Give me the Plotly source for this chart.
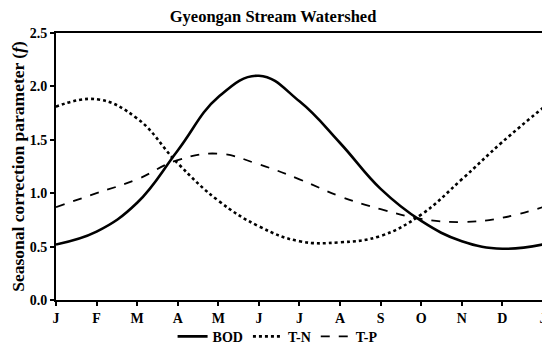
import plotly.graph_objects as go

months = list(range(13))
month_labels = ["J", "F", "M", "A", "M", "J", "J", "A", "S", "O", "N", "D", "J"]

bod = [0.52, 0.64, 0.91, 1.40, 1.90, 2.10, 1.86, 1.47, 1.04, 0.74, 0.55, 0.48, 0.52]
tn = [1.81, 1.88, 1.70, 1.28, 0.93, 0.69, 0.55, 0.54, 0.60, 0.80, 1.13, 1.48, 1.80]
tp = [0.87, 1.00, 1.13, 1.31, 1.37, 1.27, 1.13, 0.97, 0.85, 0.76, 0.73, 0.77, 0.87]

font = "Liberation Serif, Times New Roman, serif"

fig = go.Figure()
fig.add_trace(go.Scatter(x=months, y=bod, name="<b>BOD</b>", mode="lines",
                         line=dict(color="black", width=2.6, shape="spline", smoothing=1.2)))
fig.add_trace(go.Scatter(x=months, y=tn, name="<b>T-N</b>", mode="lines",
                         line=dict(color="black", width=2.6, dash="dot", shape="spline", smoothing=1.2)))
fig.add_trace(go.Scatter(x=months, y=tp, name="<b>T-P</b>", mode="lines",
                         line=dict(color="black", width=1.8, dash="dash", shape="spline", smoothing=1.2)))

# the page has an 8px body margin, so the figure is drawn 8px in from the top-left
fig.update_layout(
    width=542, height=340,
    margin=dict(l=48, r=7, t=25, b=48, autoexpand=False),
    paper_bgcolor="white", plot_bgcolor="white",
    font=dict(family=font, color="black"),
    title=dict(text="<b>Gyeongan Stream Watershed</b>", x=0.489, xanchor="center",
               yref="container", y=0.993, yanchor="top", font=dict(size=16.5)),
    showlegend=True,
    legend=dict(orientation="h", x=0.455, xanchor="center",
                yref="container", y=0.08, yanchor="top",
                font=dict(size=14), bgcolor="rgba(0,0,0,0)", itemwidth=30,
                tracegroupgap=0),
    xaxis=dict(range=[0, 12.0005], tickvals=months,
               ticktext=["<b>%s</b>" % t for t in month_labels],
               automargin=False, ticklabeloverflow="allow",
               showgrid=False, zeroline=False, showline=True, linecolor="black", linewidth=2,
               mirror=True, ticks="outside", ticklen=4, tickwidth=1.5, tickcolor="black",
               tickfont=dict(size=14)),
    yaxis=dict(range=[0, 2.5], tickvals=[0, 0.5, 1.0, 1.5, 2.0, 2.5],
               ticktext=["<b>%.1f</b>" % v for v in [0, 0.5, 1.0, 1.5, 2.0, 2.5]],
               automargin=False,
               showgrid=False, zeroline=False, showline=True, linecolor="black", linewidth=2,
               mirror=True, ticks="outside", ticklen=4, tickwidth=1.5, tickcolor="black",
               tickfont=dict(size=14),
               title=dict(text="<b>Seasonal correction parameter (<i>f</i>)</b>",
                          font=dict(size=17.5), standoff=14)),
)

fig.write_html("out.html")
